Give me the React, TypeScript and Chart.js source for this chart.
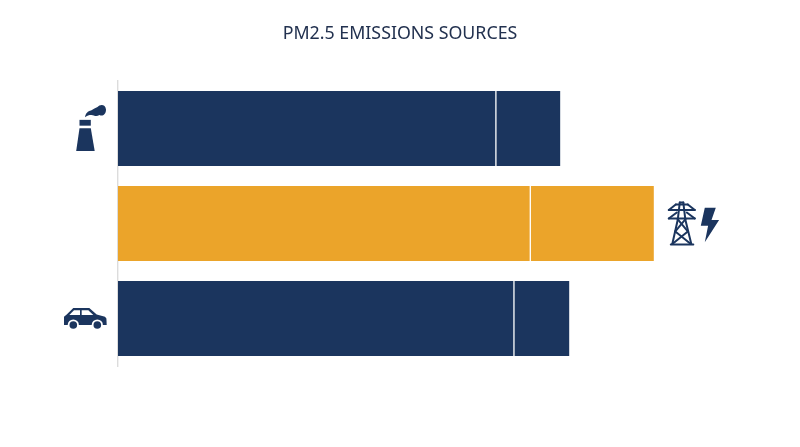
import React, { useEffect, useRef } from "react";
import { Chart, registerables } from "chart.js";

Chart.register(...registerables);

const categories = ["Industry", "Power generation", "Transport"];
const firstSegment = [67.1, 73.2, 70.3];
const secondSegment = [11.3, 21.8, 9.7];
const barColors = ["#1b355e", "#eba42a", "#1b355e"];
const chartTitle = "PM2.5 EMISSIONS SOURCES";

const NAVY = "#1b355e";

function poly(ctx: CanvasRenderingContext2D, pts: number[][]) {
  ctx.beginPath();
  pts.forEach(([x, y], i) => (i ? ctx.lineTo(x, y) : ctx.moveTo(x, y)));
  ctx.closePath();
}

// Local origin: axis x, row centre y
function factoryIcon(ctx: CanvasRenderingContext2D) {
  ctx.fillStyle = NAVY;
  ctx.fillRect(-38.5, -8.6, 11.3, 5.8);
  poly(ctx, [[-38.5, -0.2], [-27.2, -0.2], [-23.3, 22.6], [-41.8, 22.6]]);
  ctx.fill();
  ctx.beginPath();
  ctx.moveTo(-33, -11.2);
  ctx.bezierCurveTo(-32.6, -15, -30, -17.5, -27, -18);
  ctx.bezierCurveTo(-24.5, -19.5, -22.5, -20.5, -20.5, -21.5);
  ctx.bezierCurveTo(-18, -24.5, -12.5, -24.5, -12, -19);
  ctx.bezierCurveTo(-12, -13.5, -16, -12, -18.5, -13.5);
  ctx.bezierCurveTo(-21.5, -11.5, -24, -13, -26.5, -13.5);
  ctx.bezierCurveTo(-29, -13.5, -31, -13, -33, -11.2);
  ctx.closePath();
  ctx.fill();
}

function carIcon(ctx: CanvasRenderingContext2D) {
  ctx.fillStyle = NAVY;
  poly(ctx, [[-44.7, -10.5], [-40, -10.5], [-28.7, -10.5], [-21.3, -4], [-13, -1.8], [-11.6, 0], [-11.3, 6.5], [-54, 6.5], [-54, -1.8], [-51.3, -4]]);
  ctx.fill();
  ctx.fillStyle = "#fff";
  poly(ctx, [[-48.7, -3.5], [-44, -8.3], [-38, -8.3], [-38, -3.5]]);
  ctx.fill();
  poly(ctx, [[-36.3, -8.3], [-29.7, -8.3], [-24.7, -3.5], [-36.3, -3.5]]);
  ctx.fill();
  for (const cx of [-44.7, -20.7]) {
    ctx.fillStyle = "#fff";
    ctx.beginPath();
    ctx.arc(cx, 6.5, 5.6, 0, Math.PI * 2);
    ctx.fill();
    ctx.fillStyle = NAVY;
    ctx.beginPath();
    ctx.arc(cx, 6.5, 3.8, 0, Math.PI * 2);
    ctx.fill();
  }
}

// Local origin: end of bar, row centre y
function powerIcon(ctx: CanvasRenderingContext2D) {
  ctx.strokeStyle = NAVY;
  ctx.lineWidth = 2;
  ctx.lineJoin = "round";
  ctx.lineCap = "round";
  const segs: number[][] = [
    [26, -21, 24, -4],
    [29.5, -21, 31.5, -4],
    [26, -21, 29.5, -21],
    [24, -4, 18.5, 20.5],
    [31.5, -4, 37.5, 20.5],
    [15, -13.5, 41, -13.5],
    [15, -13.5, 22, -19],
    [41, -13.5, 34, -19],
    [22, -19, 34, -19],
    [15, -5, 41, -5],
    [15, -5, 23, -11],
    [41, -5, 33, -11],
    [24, -4, 34, 8],
    [31.5, -4, 21.5, 8],
    [21.5, 8, 37, 20.5],
    [34, 8, 18.5, 20.5],
    [17, 21, 39.5, 21],
  ];
  for (const [a, b, c, d] of segs) {
    ctx.beginPath();
    ctx.moveTo(a, b);
    ctx.lineTo(c, d);
    ctx.stroke();
  }
  ctx.fillStyle = NAVY;
  poly(ctx, [[51, -15.8], [62, -15.8], [57.7, -3.5], [65.3, -3.5], [51, 18.8], [54.3, 2.2], [47, 2.2]]);
  ctx.fill();
}

const iconPlugin = {
  id: "rowIcons",
  afterDatasetsDraw(chart: any) {
    const { ctx, chartArea, scales } = chart;
    const draw = (i: number, originX: number, fn: (c: CanvasRenderingContext2D) => void) => {
      ctx.save();
      ctx.translate(originX, scales.y.getPixelForValue(i));
      fn(ctx);
      ctx.restore();
    };
    draw(0, chartArea.left, factoryIcon);
    draw(1, scales.x.getPixelForValue(firstSegment[1] + secondSegment[1]), powerIcon);
    draw(2, chartArea.left, carIcon);
  },
};

export default function App() {
  const ref = useRef<HTMLCanvasElement>(null);
  useEffect(() => {
    if (!ref.current) return;
    const chart = new Chart(ref.current, {
      type: "bar",
      data: {
        labels: categories,
        datasets: [
          {
            data: firstSegment,
            backgroundColor: barColors,
            borderColor: "#fff",
            borderWidth: { right: 1.2, left: 0, top: 0, bottom: 0 },
            borderSkipped: false,
            barPercentage: 75 / 95,
            categoryPercentage: 1,
          },
          {
            data: secondSegment,
            backgroundColor: barColors,
            borderWidth: 0,
            barPercentage: 75 / 95,
            categoryPercentage: 1,
          },
        ],
      },
      options: {
        indexAxis: "y",
        responsive: false,
        animation: false,
        layout: { padding: { left: 118, right: 118, top: 0, bottom: 81 } },
        plugins: {
          legend: { display: false },
          tooltip: { enabled: false },
          title: {
            display: true,
            text: chartTitle,
            color: "#22314f",
            font: { family: "'Noto Sans'", size: 17.8, weight: "400" },
            padding: { top: 23, bottom: 36.6 },
          },
        },
        scales: {
          x: { stacked: true, display: false, min: 0, max: 100 },
          y: {
            stacked: true,
            afterFit: (s: any) => {
              s.width = 0;
            },
            grid: { display: false },
            ticks: { display: false },
            border: { display: true, color: "#dcdcdc", width: 1.4 },
          },
        },
      },
      plugins: [iconPlugin],
    } as any);
    return () => chart.destroy();
  }, []);
  return (
    <div style={{ position: "fixed", left: 0, top: 0, width: 800, height: 447, background: "#fff" }}>
      <canvas ref={ref} width={800} height={447} style={{ display: "block" }} />
    </div>
  );
}
